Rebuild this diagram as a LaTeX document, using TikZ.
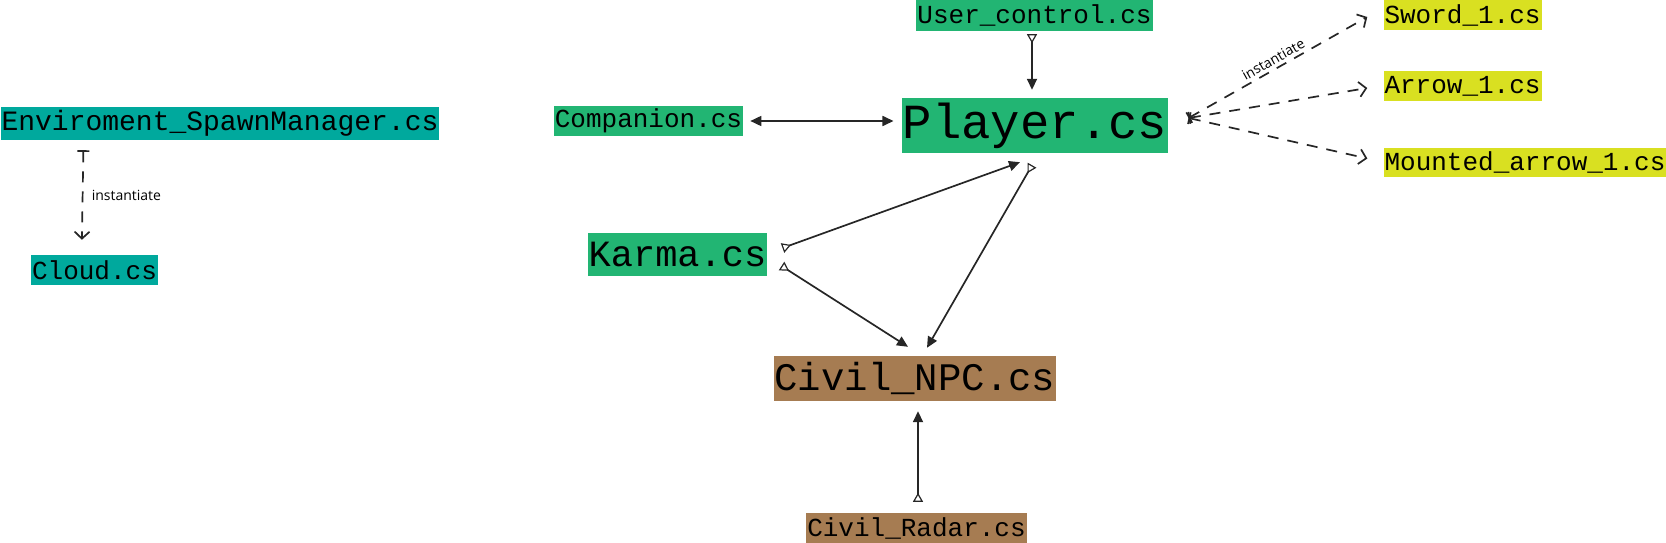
\documentclass[tikz,border=0pt]{standalone}
\usepackage{fontspec}
\setmainfont{Open Sans}
\setmonofont{Liberation Mono}
\usetikzlibrary{arrows.meta}

\definecolor{envteal}{RGB}{0,169,157}
\definecolor{plgreen}{RGB}{34,181,115}
\definecolor{wpyellow}{RGB}{217,224,33}
\definecolor{npcbrown}{RGB}{166,124,82}
\newcommand{\fsz}[1]{\fontsize{#1}{#1}\selectfont}

\begin{document}
\begin{tikzpicture}[x=1pt,y=-1pt,
  cls/.style={inner xsep=1pt,inner ysep=0pt},
  link/.style={line width=1.7pt,draw=black!85,{Triangle[open,reversed,length=9pt,width=10pt,line width=1.2pt]}-{Triangle[length=11pt,width=10pt]}},
  both/.style={line width=1.7pt,draw=black!85,{Triangle[length=11pt,width=10pt]}-{Triangle[length=11pt,width=10pt]}},
  inst/.style={line width=1.7pt,draw=black!85,dash pattern=on 11pt off 9pt,{Bar[width=12pt]}-{Straight Barb[length=7pt,width=15pt]}}]
  \useasboundingbox (0,0) rectangle (1666,543);
  % scripts
  \node[cls,fill=envteal,minimum height=33pt,font=\ttfamily\fsz{28}] (env) at (220,123.5) {Enviroment\_SpawnManager.cs};
  \node[cls,fill=envteal,minimum height=30pt,font=\ttfamily\fsz{26}] (cloud) at (94.5,270) {Cloud.cs};
  \node[cls,fill=plgreen,minimum height=31pt,font=\ttfamily\fsz{26}] (user) at (1034.5,15.5) {User\_control.cs};
  \node[cls,fill=plgreen,minimum height=55pt,font=\ttfamily\fsz{49}] (player) at (1035,125.5) {Player.cs};
  \node[cls,fill=plgreen,minimum height=30pt,font=\ttfamily\fsz{26}] (comp) at (648.5,121) {Companion.cs};
  \node[cls,fill=plgreen,minimum height=43pt,font=\ttfamily\fsz{37}] (karma) at (677.5,254.5) {Karma.cs};
  \node[cls,fill=npcbrown,minimum height=45pt,font=\ttfamily\fsz{39}] (npc) at (915,378.5) {Civil\_NPC.cs};
  \node[cls,fill=npcbrown,minimum height=30pt,font=\ttfamily\fsz{26}] (radar) at (916.5,528) {Civil\_Radar.cs};
  \node[cls,fill=wpyellow,minimum height=30pt,font=\ttfamily\fsz{26}] (sword) at (1462.5,15) {Sword\_1.cs};
  \node[cls,fill=wpyellow,minimum height=30pt,font=\ttfamily\fsz{26}] (arrow1) at (1462.5,86) {Arrow\_1.cs};
  \node[cls,fill=wpyellow,minimum height=29pt,font=\ttfamily\fsz{26}] (mounted) at (1525,162.5) {Mounted\_arrow\_1.cs};
  % links
  \draw[link] ([shift={(-2.5,3)}]user.south) -- ([shift={(-3,-8)}]player.north);
  \draw[both,shorten <=7pt,shorten >=8pt] (comp.east) -- (comp.east -| player.west);
  \draw[link] ([shift={(15,-6.5)}]karma.east) -- ([shift={(-15,9)}]player.south);
  \draw[link] ([shift={(-3,12)}]player.south) -- ([shift={(12,-8)}]npc.north);
  \draw[link] ([shift={(14,11.5)}]karma.east) -- ([shift={(-7,-9)}]npc.north);
  \draw[link] ([shift={(1.5,-11)}]radar.north) -- ([shift={(3,10)}]npc.south);
  % instantiate
  \draw[inst] ([shift={(83,10)}]env.south west) -- ([shift={(51,-15)}]cloud.north west)
    node[midway,right,xshift=5pt,font=\fsz{14}] {instantiate};
  \coordinate (pout) at ([shift={(20,-7.5)}]player.east);
  \draw[inst] (pout) -- ([shift={(-16,2)}]sword.west)
    node[midway,sloped,above,font=\fsz{14}] {instantiate};
  \draw[inst] (pout) -- ([shift={(-16,2)}]arrow1.west);
  \draw[inst] (pout) -- ([shift={(-16,-4)}]mounted.west);
\end{tikzpicture}
\end{document}
